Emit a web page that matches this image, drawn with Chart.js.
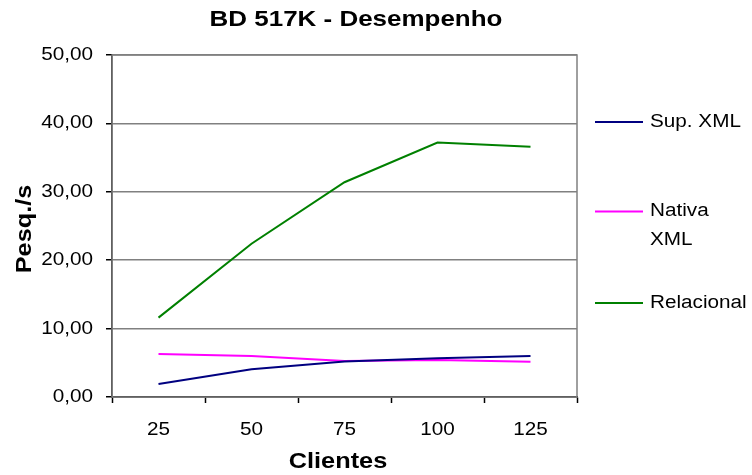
<!DOCTYPE html>
<html><head><meta charset="utf-8">
<script src="https://cdn.jsdelivr.net/npm/chart.js@4/dist/chart.umd.min.js"></script>
<style>html,body{margin:0;padding:0;background:#fff}#wrap{width:752px;height:475px}</style>
</head><body><div id="wrap"><canvas id="c" width="752" height="475"></canvas></div>
<script>
const categories = ['25', '50', '75', '100', '125'];
const supXml = [1.9, 4.05, 5.2, 5.65, 6.0];
const nativaXml = [6.3, 6.0, 5.25, 5.4, 5.15];
const relacional = [11.6, 22.4, 31.4, 37.2, 36.6];
const seriesNames = ['Sup. XML', ['Nativa', 'XML'], 'Relacional'];
const seriesColors = ['#000080', '#FF00FF', '#008000'];
const chartTitle = 'BD 517K - Desempenho';
const xTitle = 'Clientes';
const yTitle = 'Pesq./s';
const FONT = '"Liberation Sans", Arial, sans-serif';
const STRETCH = 1.15;

const frame = {
  id: 'frame',
  beforeInit(chart) {
    const ctx = chart.ctx;
    const orig = ctx.fillText.bind(ctx);
    ctx.fillText = function (t, x, y, mw) {
      ctx.save();
      ctx.translate(x, y);
      ctx.scale(ctx._sx || STRETCH, 1);
      if (mw === undefined) orig(t, 0, 0); else orig(t, 0, 0, mw / STRETCH);
      ctx.restore();
    };
  },
  beforeDatasetsDraw(chart) {
    const {ctx, chartArea: a} = chart;
    ctx.save();
    ctx.strokeStyle = '#808080'; ctx.lineWidth = 1.5;
    ctx.strokeRect(a.left, a.top, a.right - a.left, a.bottom - a.top);
    ctx.restore();
  },
  afterDraw(chart) {
    const {ctx, chartArea: a} = chart;
    ctx.save();
    ctx.fillStyle = '#000';
    ctx.textBaseline = 'middle';
    // title
    ctx.font = 'bold 22px ' + FONT;
    ctx.textAlign = 'center';
    ctx._sx = 1.18;
    ctx.fillText(chartTitle, 356, 20);
    ctx._sx = null;
    // x title
    ctx.fillText(xTitle, 338, 462);
    // y title
    ctx.save();
    ctx.translate(25, 229);
    ctx.rotate(-Math.PI / 2);
    ctx.fillText(yTitle, 0, 0);
    ctx.restore();
    // legend
    const ys = [122, 211.5, 303];
    ctx.font = '18px ' + FONT;
    ctx.textAlign = 'left';
    chart.data.datasets.forEach((ds, i) => {
      ctx.strokeStyle = ds.borderColor; ctx.lineWidth = 2;
      ctx.beginPath(); ctx.moveTo(595, ys[i]); ctx.lineTo(643, ys[i]); ctx.stroke();
      const lines = Array.isArray(seriesNames[i]) ? seriesNames[i] : [seriesNames[i]];
      lines.forEach((t, j) => ctx.fillText(t, 650, ys[i] + j * 29));
    });
    ctx.restore();
  }
};

new Chart(document.getElementById('c'), {
  type: 'line',
  data: {
    labels: categories,
    datasets: [
      {label: 'Sup. XML', data: supXml},
      {label: 'Nativa XML', data: nativaXml},
      {label: 'Relacional', data: relacional}
    ].map((d, i) => Object.assign(d, {borderColor: seriesColors[i], backgroundColor: seriesColors[i], borderWidth: 2, pointRadius: 0, tension: 0, fill: false}))
  },
  options: {
    responsive: false, animation: false,
    layout: {padding: {left: 0, right: 175, top: 55, bottom: 0}},
    plugins: {
      legend: {display: false},
      tooltip: {enabled: false},
      title: {display: false}
    },
    scales: {
      x: {
        offset: true,
        grid: {offset: true, drawOnChartArea: false, color: '#000', tickLength: 6, tickWidth: 1.5},
        border: {color: '#000', width: 1.5},
        ticks: {color: '#000', font: {family: FONT, size: 18}, padding: 16, maxRotation: 0},
        afterFit(s) { s.height = 78; }
      },
      y: {
        min: 0, max: 50,
        ticks: {stepSize: 10, color: '#000', font: {family: FONT, size: 18}, padding: 13,
          callback: v => v.toFixed(2).replace('.', ',')},
        grid: {color: '#808080', lineWidth: 1.5, tickLength: 6, tickColor: '#000'},
        border: {color: '#000', width: 1.5},
        afterFit(s) { s.width = 112; }
      }
    }
  },
  plugins: [frame]
});
</script></body></html>
